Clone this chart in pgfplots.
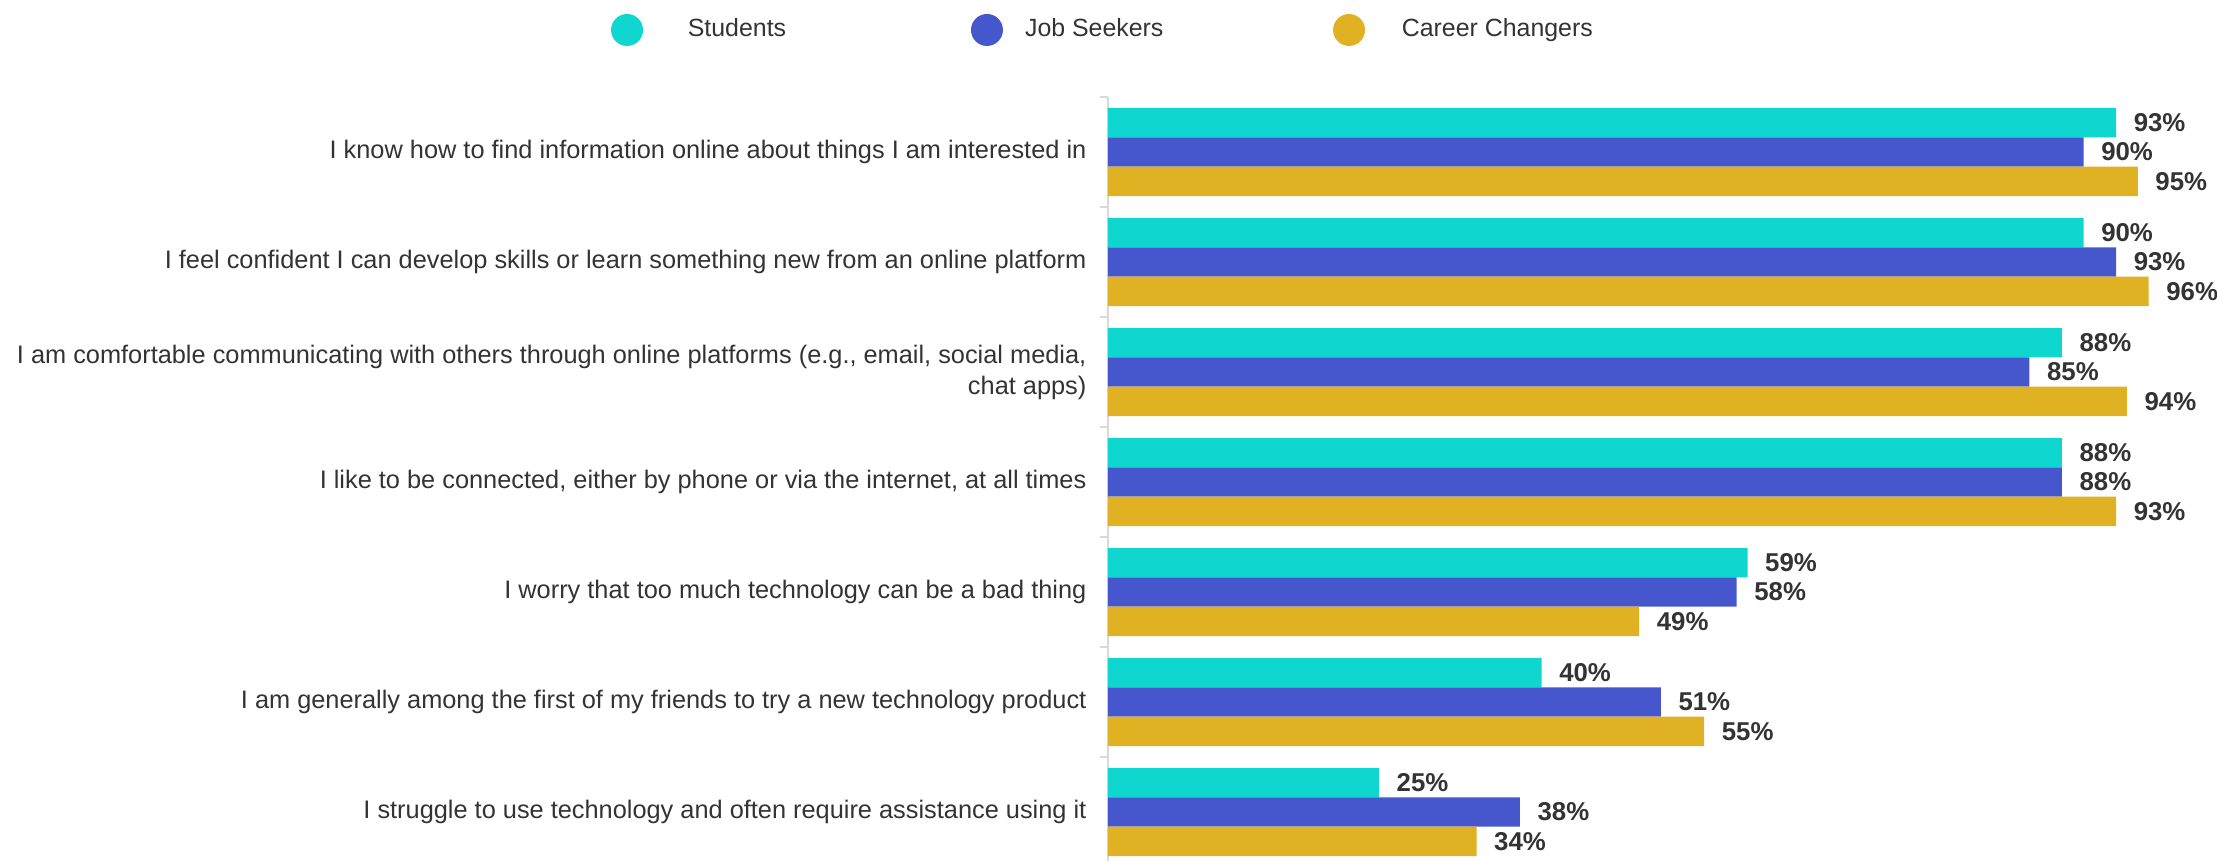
\documentclass[border=0pt]{standalone}
\usepackage{fontspec}
\setmainfont{Liberation Sans}
\usepackage{pgfplots}
\usepackage{pgfplotstable}
\pgfplotsset{compat=1.18}
\definecolor{cteal}{HTML}{0FD6CE}
\definecolor{cblue}{HTML}{4657CE}
\definecolor{cgold}{HTML}{E1B124}
\definecolor{ctext}{HTML}{333333}
\definecolor{caxis}{HTML}{D9D9D9}

\pgfplotstableread{
y v
0 93
1 90
2 88
3 88
4 59
5 40
6 25
}\students
\pgfplotstableread{
y v
0 90
1 93
2 85
3 88
4 58
5 51
6 38
}\jobseekers
\pgfplotstableread{
y v
0 95
1 96
2 94
3 93
4 49
5 55
6 34
}\careerchangers

\begin{document}
\begin{tikzpicture}
\begin{axis}[
  scale only axis, width=361.33pt, height=254.67pt,
  xmin=0, xmax=100, ymin=-0.5, ymax=6.445, y dir=reverse,
  xbar, bar width=9.78pt,
  axis x line=none, axis y line*=left,
  y axis line style={caxis, line width=0.67pt, -},
  ytick={0,...,6},
  yticklabels={
    I know how to find information online about things I am interested in,
    I feel confident I can develop skills or learn something new from an online platform,
    {I am comfortable communicating with others through online platforms (e.g., email, social media,\\chat apps)},
    {I like to be connected, either by phone or via the internet, at all times},
    I worry that too much technology can be a bad thing,
    I am generally among the first of my friends to try a new technology product,
    I struggle to use technology and often require assistance using it},
  minor ytick={-0.5,0.5,...,5.5},
  major tick length=0pt, minor tick length=2.7pt, tick align=outside,
  minor tick style={caxis, line width=0.67pt},
  yticklabel style={font=\fontsize{8.45}{10.3}\selectfont, text=ctext, align=right, inner sep=0pt, xshift=-7pt},
  nodes near coords={\pgfmathprintnumber{\pgfplotspointmeta}\%},
  point meta=x,
  every node near coord/.append style={anchor=west, inner sep=0pt, xshift=5.7pt, font=\fontsize{8.6}{10}\selectfont\bfseries, text=ctext},
  /pgf/number format/assume math mode=true,
  legend columns=3,
  legend cell align=left,
  legend style={at={(-0.4584,1.0877)}, anchor=west, draw=none, fill=none, inner sep=0pt, outer sep=0pt, column sep=0pt, row sep=0pt, font=\fontsize{8.3}{10}\selectfont, text=ctext, nodes={inner sep=0pt, outer sep=0pt}},
]
\addplot[fill=cteal, draw=none, bar shift=0pt,
  legend image code/.code={\path (0pt,0pt) (25.6pt,0pt); \fill[cteal] (5.33pt,0pt) circle (5.33pt);}]
  table[x=v, y expr=\thisrow{y}-0.2667] {\students};
\addlegendentry{\makebox[70.7pt][l]{Students}}
\addplot[fill=cblue, draw=none, bar shift=0pt,
  legend image code/.code={\path (0pt,0pt) (41.7pt,0pt); \fill[cblue] (29pt,0pt) circle (5.33pt);}]
  table[x=v, y expr=\thisrow{y}] {\jobseekers};
\addlegendentry{\makebox[78.3pt][l]{Job Seekers}}
\addplot[fill=cgold, draw=none, bar shift=0pt,
  legend image code/.code={\path (0pt,0pt) (47.3pt,0pt); \fill[cgold] (29.7pt,0pt) circle (5.33pt);}]
  table[x=v, y expr=\thisrow{y}+0.2667] {\careerchangers};
\addlegendentry{Career Changers}
\end{axis}
\pgfresetboundingbox
\path[use as bounding box] (-369.33pt,0pt) rectangle (369.67pt,287pt);
\end{tikzpicture}
\end{document}
